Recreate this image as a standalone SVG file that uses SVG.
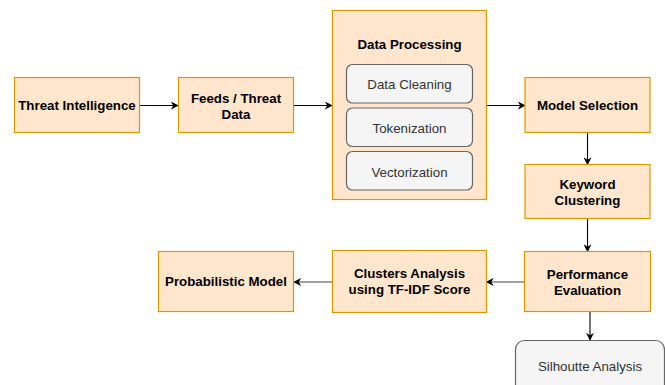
<svg xmlns="http://www.w3.org/2000/svg" width="665" height="385" viewBox="0 0 665 385">
<style>
.o{fill:#ffe6cc;stroke:#d79b00;stroke-width:1.2}
.g{fill:#f5f5f5;stroke:#666666;stroke-width:1.2}
.b{font-family:"Liberation Sans",Arial,Helvetica,sans-serif;font-weight:bold;font-size:13.3px;fill:#000;text-anchor:middle}
.r{font-family:"Liberation Sans",Arial,Helvetica,sans-serif;font-size:13.3px;fill:#333333;text-anchor:middle}
.c{fill:none;stroke:#000;stroke-width:1.1}
</style>
<defs>
<marker id="a" viewBox="0 0 10 10" refX="9" refY="5" markerWidth="8" markerHeight="8" markerUnits="userSpaceOnUse" orient="auto">
<path d="M0,0 L10,5 L0,10 L3,5 Z" fill="#000"/>
</marker>
</defs>
<rect width="665" height="385" fill="#fff"/>
<g id="connectors">
<path class="c" d="M140,105.5 H178" marker-end="url(#a)"/>
<path class="c" d="M294,105.5 H332" marker-end="url(#a)"/>
<path class="c" d="M486.5,105.5 H525" marker-end="url(#a)"/>
<path class="c" d="M587.5,132.5 V164.5" marker-end="url(#a)"/>
<path class="c" d="M587.5,218.5 V251.5" marker-end="url(#a)"/>
<path class="c" d="M590,311.5 V340" marker-end="url(#a)"/>
<path class="c" style="stroke:#444" d="M524.5,282 H486.5" marker-end="url(#a)"/>
<path class="c" style="stroke:#444" d="M332.5,282 H294" marker-end="url(#a)"/>
</g>
<g id="threat-intelligence">
<rect class="o" x="14.5" y="77.5" width="125" height="55"/>
<text class="b" x="77" y="110">Threat Intelligence</text>
</g>
<g id="feeds">
<rect class="o" x="178.5" y="77.5" width="115" height="55"/>
<text class="b" x="236" y="103">Feeds / Threat</text>
<text class="b" x="236" y="119">Data</text>
</g>
<g id="data-processing">
<rect class="o" x="332.5" y="10.5" width="154" height="189"/>
<text class="b" x="409.5" y="49">Data Processing</text>
</g>
<g id="data-cleaning">
<rect class="g" x="346.5" y="64.5" width="126" height="38.5" rx="6"/>
<text class="r" x="409.5" y="89">Data Cleaning</text>
</g>
<g id="tokenization">
<rect class="g" x="346.5" y="108" width="126" height="38.5" rx="6"/>
<text class="r" x="409.5" y="133">Tokenization</text>
</g>
<g id="vectorization">
<rect class="g" x="346.5" y="151.5" width="126" height="38.5" rx="6"/>
<text class="r" x="409.5" y="177">Vectorization</text>
</g>
<g id="model-selection">
<rect class="o" x="525" y="77.5" width="125" height="55"/>
<text class="b" x="587.5" y="110">Model Selection</text>
</g>
<g id="keyword-clustering">
<rect class="o" x="525" y="164.5" width="125" height="54"/>
<text class="b" x="587.5" y="189">Keyword</text>
<text class="b" x="587.5" y="205">Clustering</text>
</g>
<g id="performance-evaluation">
<rect class="o" x="524.5" y="251.5" width="126" height="60"/>
<text class="b" x="587.5" y="279">Performance</text>
<text class="b" x="587.5" y="295">Evaluation</text>
</g>
<g id="silhoutte-analysis">
<rect class="g" x="515.5" y="340.5" width="149" height="60" rx="9"/>
<text class="r" x="590" y="371">Silhoutte Analysis</text>
</g>
<g id="clusters-analysis">
<rect class="o" x="332.5" y="250.5" width="154" height="62"/>
<text class="b" x="409.5" y="278">Clusters Analysis</text>
<text class="b" x="409.5" y="294">using TF-IDF Score</text>
</g>
<g id="probabilistic-model">
<rect class="o" x="158.5" y="251.5" width="135" height="60"/>
<text class="b" x="226" y="286">Probabilistic Model</text>
</g>
</svg>
